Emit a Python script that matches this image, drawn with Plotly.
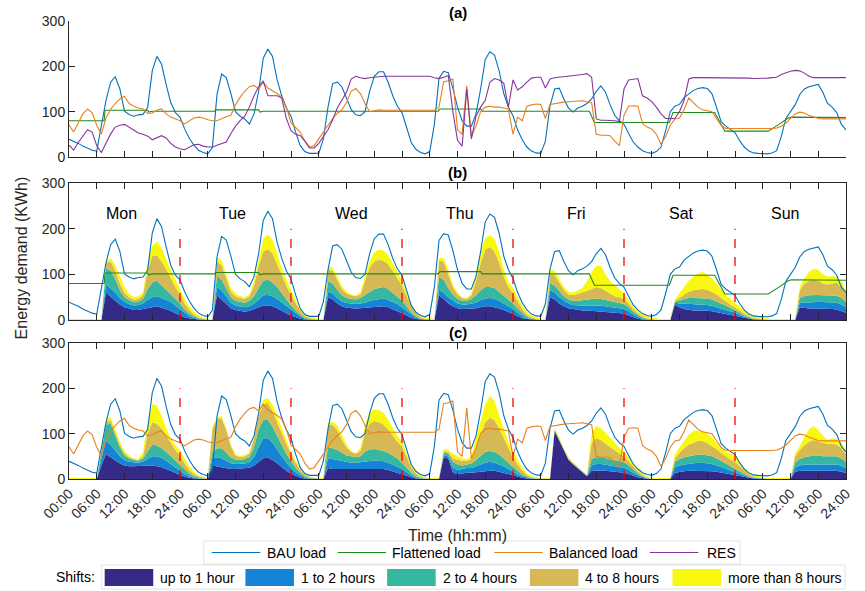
import plotly.graph_objects as go

HOURS = list(range(169))

# ---------------- data (hourly, Mon 00:00 .. Sun 24:00) ----------------
BAU = ([39,35,30,24,19,15,13,65,125,165,177,150,101,94,90,93,94,109,190,222,205,160,120,98]
       + [88,62,42,26,15,10,7,21,138,183,175,140,100,90,84,73,95,145,218,238,222,170,135,108]
       + [90,55,25,12,8,8,8,40,110,162,165,155,130,105,93,91,100,145,178,188,188,165,135,112]
       + [98,63,32,17,10,7,12,72,174,189,186,152,110,80,68,68,95,150,215,232,225,190,140,110]
       + [91,60,38,22,13,9,8,35,112,150,152,128,108,99,108,112,118,128,145,157,143,115,92,80]
       + [72,52,33,22,14,10,8,12,22,58,100,112,116,131,139,147,151,153,151,140,110,78,68,60]
       + [54,36,22,13,9,8,7,7,9,14,45,85,100,115,138,150,155,157,160,143,118,110,98,72]
       + [60])

BALANCED = ([71,55,75,95,106,98,70,51,86,105,118,128,134,118,112,108,106,96,97,103,106,95,88,84]
            + [80,73,80,86,88,86,82,80,80,85,89,92,115,132,145,155,158,150,165,152,146,140,132,110]
            + [75,64,55,35,22,25,40,55,72,85,96,104,120,145,151,140,118,100,102,104,103,103,104,104]
            + [103,104,104,103,104,104,104,103,110,166,168,172,60,50,157,45,68,100,110,112,110,110,108,106]
            + [50,88,80,112,115,117,116,85,116,118,120,121,122,123,124,124,122,120,50,48,48,47,35,25]
            + [92,112,113,112,74,66,62,50,28,45,70,84,86,105,130,120,110,104,102,100,85,70,63,63]
            + [62,62,62,62,62,62,62,62,63,64,68,75,84,95,99,97,92,88,85,84,84,84,84,84]
            + [84])

RES = ([26,15,32,46,60,55,25,10,30,51,66,70,72,65,59,53,50,46,38,42,47,42,30,22]
       + [18,16,22,27,28,24,22,22,26,30,33,52,68,80,90,110,135,155,168,135,135,135,130,85]
       + [58,50,47,35,20,20,30,45,60,82,108,125,143,172,178,175,173,175,176,178,178,178,178,178]
       + [178,178,178,177,177,177,178,175,173,176,180,100,37,24,150,40,90,110,125,165,173,170,163,110]
       + [170,148,155,165,174,176,176,152,172,175,176,177,178,179,180,182,184,176,84,81,81,81,80,78]
       + [150,170,172,173,135,130,122,110,95,85,85,85,100,125,172,175,175,175,175,175,175,175,174,174]
       + [174,174,174,174,173,173,173,174,175,176,182,186,189,191,190,185,178,175,175,175,175,175,175,175]
       + [175])

FLAT_T = [0, 7.6, 7.8, 17, 17.3, 18, 31.5, 31.7, 41, 41.3, 42, 79.8, 80.2, 89, 89.3,
          112.5, 113.6, 129.8, 130.6, 139.6, 141.8, 151.2, 153.5, 155.5, 156.2, 168]
FLAT_V = [80, 80, 103, 103, 99, 101, 101, 104, 104, 99, 101, 101, 106, 106, 101,
          101, 76, 76, 98, 98, 57, 57, 72, 86, 88, 87]

# stacked shift layers, panel (b): cumulative top of each band
B_UP1H = ([0]*8 + [60,50,42,34,28,25,22,22,24,26,28,30,27,24,20,15]
          + [10,6,4,2,1,0,0,0,54,45,35,26,22,20,18,20,24,28,32,32,30,26,20,15]
          + [10,6,3,1,0,0,0,0,50,45,36,30,27,26,25,26,27,28,28,30,30,28,24,20]
          + [15,10,5,2,1,0,0,0,54,46,36,30,26,24,24,25,26,28,30,30,28,25,22,18]
          + [13,8,4,2,1,0,0,0,50,45,36,30,26,24,22,21,21,20,20,19,18,17,16,15]
          + [14,10,6,3,1,0,0,0,0,0,0,34,28,24,22,21,21,21,20,19,17,15,13,11]
          + [9,6,4,2,1,0,0,0,0,0,0,0,0,0,28,26,25,25,25,24,24,24,23,20]
          + [16])
B_1TO2 = ([0]*8 + [78,70,60,48,40,35,32,33,36,44,50,52,48,45,40,32]
          + [24,15,9,5,2,1,0,0,72,64,52,38,32,30,28,30,36,45,54,55,52,46,38,30]
          + [22,14,8,3,1,0,0,0,62,58,48,40,37,36,35,36,38,42,44,46,47,44,40,35]
          + [28,20,11,5,2,1,0,0,66,60,50,42,36,34,34,36,38,44,47,48,46,42,36,30]
          + [24,16,9,4,2,1,0,0,65,60,50,42,36,33,32,32,32,32,32,31,30,28,27,26]
          + [24,19,12,7,3,1,0,0,0,0,0,38,36,36,35,34,34,34,33,31,28,25,22,19]
          + [16,11,7,4,2,1,0,0,0,0,0,0,0,0,38,38,38,39,40,39,39,39,38,34]
          + [28])
B_2TO4 = ([0]*8 + [112,108,90,65,50,43,39,40,46,68,82,86,76,66,58,46]
          + [36,23,14,8,4,2,0,0,96,88,70,50,42,40,38,42,52,70,86,88,82,72,58,45]
          + [33,21,12,5,2,1,0,0,85,80,66,54,48,46,45,48,55,62,68,70,72,68,60,52]
          + [42,30,17,8,3,1,0,0,94,88,70,56,46,42,42,46,55,65,72,72,70,62,54,45]
          + [36,25,15,7,3,1,0,0,80,76,63,52,45,42,42,43,44,46,47,46,44,42,40,38]
          + [35,28,18,11,5,2,1,0,0,0,0,40,42,46,48,48,48,48,47,45,41,36,32,27]
          + [22,16,10,6,3,2,1,0,0,0,0,0,0,0,48,52,54,55,55,54,54,54,53,48]
          + [40])
B_4TO8 = ([0]*8 + [125,128,108,80,60,50,45,46,55,108,140,142,128,112,92,72]
          + [56,36,22,12,6,3,1,0,128,120,90,62,52,48,46,52,75,118,150,155,146,122,96,75]
          + [55,36,20,9,4,2,1,0,110,108,88,68,58,54,52,56,85,115,128,132,130,122,108,92]
          + [76,52,30,14,6,3,1,0,130,128,100,72,56,48,46,54,85,125,155,160,150,126,95,72]
          + [58,40,24,12,6,3,1,0,100,98,82,66,56,55,57,60,64,68,72,70,64,58,52,50]
          + [46,36,24,15,8,4,2,1,0,0,0,42,48,56,62,65,67,68,66,62,56,48,40,34]
          + [28,21,14,9,5,3,2,1,0,0,0,0,0,0,65,80,86,88,86,80,78,80,82,72]
          + [58])
B_OVER8 = ([2]*8 + [130,135,120,95,72,57,50,52,60,125,162,172,158,132,108,88]
           + [68,46,30,18,10,5,3,2,138,130,100,70,58,52,50,56,85,128,178,188,176,146,112,88]
           + [65,44,26,14,8,5,3,2,116,115,95,74,62,56,54,60,95,128,148,154,152,142,124,104]
           + [86,60,35,19,9,5,3,2,136,136,110,78,60,50,48,58,100,150,180,185,178,150,112,84]
           + [70,50,32,18,10,6,3,2,110,108,90,72,62,60,64,70,85,105,118,118,100,85,76,66]
           + [58,44,30,20,13,8,5,3,2,2,2,45,58,72,86,96,102,105,100,92,80,66,55,46]
           + [37,29,21,15,10,7,5,3,2,2,2,2,2,2,72,92,105,112,110,100,95,96,95,85]
           + [65])

# stacked shift layers, panel (c): cumulative top of each band
C_UP1H = ([0]*7 + [30,55,48,40,34,30,28,28,28,29,30,30,28,26,22,18,13]
          + [9,5,3,1,0,0,0,30,28,26,24,22,22,23,24,25,30,38,46,47,42,35,26,18]
          + [12,7,3,1,0,0,0,0,24,22,22,22,22,22,22,22,22,22,22,22,22,20,17,14]
          + [11,7,4,1,0,0,0,0,0,48,45,15,10,12,14,14,15,17,18,18,18,16,14,11]
          + [8,5,3,1,0,0,0,0,0,106,85,62,42,32,24,14,6,18,19,19,18,17,16,15]
          + [14,11,7,4,2,0,0,0,0,0,0,14,16,17,18,18,18,18,18,17,16,14,12,10]
          + [8,6,4,2,1,0,0,0,0,0,0,0,0,16,18,18,18,18,18,18,18,18,18,16]
          + [13])
C_1TO2 = ([0]*7 + [45,85,75,62,50,42,38,37,36,38,44,50,50,47,40,32,25]
          + [18,11,6,3,1,0,0,45,48,46,40,35,33,33,34,37,48,70,90,90,80,65,50,36]
          + [25,15,8,3,1,0,0,0,46,44,42,40,38,36,36,37,39,40,41,40,39,36,32,27]
          + [22,14,8,3,1,0,0,0,0,52,50,25,20,22,24,24,28,32,36,38,36,32,28,22]
          + [16,10,6,3,1,0,0,0,0,107,86,63,43,33,25,15,7,30,33,33,32,30,28,27]
          + [25,20,13,8,4,1,0,0,0,0,0,26,30,32,34,35,36,36,35,33,30,27,23,19]
          + [15,11,7,4,2,1,0,0,0,0,0,0,0,26,30,32,32,33,33,32,32,32,32,29]
          + [24])
C_2TO4 = ([0]*7 + [60,120,122,98,70,52,45,42,40,45,62,76,74,68,60,50,40]
          + [30,20,12,6,3,1,0,60,68,68,58,48,43,42,44,48,70,110,130,130,115,95,72,55]
          + [40,25,14,6,2,1,0,0,70,68,64,58,52,50,48,50,60,65,66,64,62,58,52,45]
          + [36,24,14,6,2,1,0,0,0,58,56,38,32,30,32,34,42,52,60,62,60,54,46,36]
          + [27,18,10,5,2,1,0,0,0,108,87,64,44,34,26,16,7,44,48,48,46,44,42,40]
          + [37,30,20,12,6,2,0,0,0,0,0,38,44,48,50,52,54,54,52,50,46,40,34,28]
          + [23,17,11,6,3,2,1,0,0,0,0,0,0,36,44,48,50,52,52,50,50,50,50,45]
          + [38])
C_4TO8 = ([0]*7 + [62,126,130,104,76,57,48,44,42,50,100,125,122,112,95,78,64]
          + [52,34,20,11,6,3,1,110,132,134,108,72,52,48,50,56,90,140,165,168,150,125,100,78]
          + [56,36,20,10,4,2,1,0,118,120,108,86,70,60,56,62,100,122,128,126,120,110,96,82]
          + [72,48,26,12,5,2,1,0,0,62,60,45,42,40,40,44,70,100,125,135,130,112,90,68]
          + [48,32,18,9,4,2,1,0,0,110,89,66,46,35,27,17,8,80,90,86,78,70,62,56]
          + [50,40,28,17,9,4,1,0,0,0,0,45,58,68,76,80,84,84,80,72,66,58,50,43]
          + [38,28,18,10,6,3,2,0,0,0,0,0,0,50,64,75,82,86,84,80,78,78,76,68]
          + [55])
C_OVER8 = ([2]*7 + [65,132,137,110,82,62,52,45,44,60,125,165,162,140,112,90,74]
           + [64,44,28,16,9,5,3,115,136,139,112,76,55,51,53,58,95,145,175,178,165,138,110,86]
           + [60,40,24,12,6,3,2,2,124,126,118,96,76,62,56,68,118,146,154,152,146,130,112,95]
           + [84,55,32,16,8,4,2,2,2,66,64,55,50,46,44,50,90,130,165,183,172,140,110,82]
           + [60,42,25,13,7,4,2,2,2,112,92,68,48,37,29,19,9,100,117,112,102,92,80,68]
           + [60,48,33,21,12,6,3,2,2,2,2,55,70,84,98,106,107,106,100,92,80,68,60,56]
           + [52,38,24,15,10,7,4,2,2,2,2,2,2,56,72,92,110,117,108,96,86,90,88,80]
           + [62])

DAY_BOUNDS = [24, 48, 72, 96, 120, 144]
DAY_NAMES = ["Mon", "Tue", "Wed", "Thu", "Fri", "Sat", "Sun"]
DAY_LABEL_X = [11.3, 35.4, 61.0, 84.6, 109.8, 132.4, 154.8]
TICK_VALS = list(range(0, 169, 6))
TICK_TEXT = ["00:00"] + ["06:00", "12:00", "18:00", "24:00"] * 7
SHIFT_NAMES = ["up to 1 hour", "1 to 2 hours", "2 to 4 hours", "4 to 8 hours", "more than 8 hours"]

# ---------------- styling ----------------
C_BAU = "#0072BD"
C_FLAT = "#1E8B1E"
C_BAL = "#E6811E"
C_RES = "#84379A"
SHIFT_COLORS = ["#352A87", "#1584D6", "#35B7A0", "#D6B954", "#F8F80E"]
FONT = "Liberation Sans, Arial, Helvetica, sans-serif"
AX = "#262626"

W, H = 865, 591
ML, MR, MT, MB = 69, 12, 21, 112
PW, PH = W - ML - MR, H - MT - MB


def P(x, y):
    """screen pixel -> paper coordinates"""
    return (x - ML) / PW, (H - MB - y) / PH


def DY(y):
    return (H - MB - y) / PH


fig = go.Figure()


def add_stack(tops, xa, ya):
    for i, (top, col) in enumerate(zip(tops, SHIFT_COLORS)):
        fig.add_trace(go.Scatter(x=HOURS, y=top, mode="lines", line=dict(width=0, color=col),
                                 fill="tozeroy" if i == 0 else "tonexty", fillcolor=col,
                                 xaxis=xa, yaxis=ya, showlegend=False, hoverinfo="skip"))


def add_line(x, y, col, xa, ya, w=1.1):
    fig.add_trace(go.Scatter(x=x, y=y, mode="lines", line=dict(width=w, color=col),
                             xaxis=xa, yaxis=ya, showlegend=False, hoverinfo="skip"))


# panel (a)
add_line(HOURS, BAU, C_BAU, "x", "y")
add_line(FLAT_T, FLAT_V, C_FLAT, "x", "y")
add_line(HOURS, BALANCED, C_BAL, "x", "y")
add_line(HOURS, RES, C_RES, "x", "y")
# panel (b)
add_stack([B_UP1H, B_1TO2, B_2TO4, B_4TO8, B_OVER8], "x2", "y2")
add_line(HOURS, BAU, C_BAU, "x2", "y2")
add_line(FLAT_T, FLAT_V, C_FLAT, "x2", "y2")
# panel (c)
add_stack([C_UP1H, C_1TO2, C_2TO4, C_4TO8, C_OVER8], "x3", "y3")
add_line(HOURS, BAU, C_BAU, "x3", "y3")
add_line(HOURS, BALANCED, C_BAL, "x3", "y3")

shapes = []
for ax in ("2", "3"):
    for xb in DAY_BOUNDS:
        shapes.append(dict(type="line", xref="x" + ax, yref="y" + ax, x0=xb, x1=xb, y0=0, y1=200,
                           line=dict(color="#FF0000", width=1.3, dash="dash")))

annotations = []


def text(xp, yp, s, size=14, xanchor="center", angle=0, color="black"):
    x, y = P(xp, yp)
    annotations.append(dict(x=x, y=y, xref="paper", yref="paper", text=s, showarrow=False,
                            xanchor=xanchor, yanchor="middle", textangle=angle,
                            font=dict(size=size, color=color, family=FONT)))


for name, xd in zip(DAY_NAMES, DAY_LABEL_X):
    annotations.append(dict(x=xd, y=233, xref="x2", yref="y2", text=name, showarrow=False,
                            xanchor="center", yanchor="middle",
                            font=dict(size=16, color="black", family=FONT)))
for lab, yp in (("(a)", 12), ("(b)", 172), ("(c)", 332)):
    text(461, yp, "<b>%s</b>" % lab, size=15)
text(21, 258, "Energy demand (KWh)", size=16, angle=-90, color=AX)
text(461, 535, "Time (hh:mm)", size=16, color=AX)

# legend 1 (lines)
x0, y0 = P(205, 564); x1, y1 = P(746, 541)
shapes.append(dict(type="rect", xref="paper", yref="paper", x0=x0, y0=y0, x1=x1, y1=y1,
                   line=dict(color="#E3E3E3", width=1), fillcolor="white"))
for name, col, lx, tx in (("BAU load", C_BAU, 213, 267), ("Flattened load", C_FLAT, 340, 393),
                          ("Balanced load", C_BAL, 498, 551), ("RES", C_RES, 655, 711)):
    a0, b0 = P(lx, 552.5); a1, _ = P(lx + 49, 552.5)
    shapes.append(dict(type="line", xref="paper", yref="paper", x0=a0, x1=a1, y0=b0, y1=b0,
                       line=dict(color=col, width=1.2)))
    text(tx, 552.5, name, xanchor="left")

# legend 2 (shift bands)
x0, y0 = P(102, 589); x1, y1 = P(852, 565)
shapes.append(dict(type="rect", xref="paper", yref="paper", x0=x0, y0=y0, x1=x1, y1=y1,
                   line=dict(color="#E3E3E3", width=1), fillcolor="white"))
text(97, 577, "Shifts:", xanchor="right")
for name, col, sx in zip(SHIFT_NAMES, SHIFT_COLORS, [105, 247, 390, 534, 678]):
    a0, b0 = P(sx, 586); a1, b1 = P(sx + 49, 569)
    shapes.append(dict(type="rect", xref="paper", yref="paper", x0=a0, y0=b0, x1=a1, y1=b1,
                       line=dict(width=0), fillcolor=col))
    text(sx + 54, 577.5, name, xanchor="left")

tickfont = dict(size=14, color=AX, family=FONT)


def xax(anchor, labels, mirror):
    d = dict(range=[0, 168], domain=[0, 1], anchor=anchor, tickmode="array", tickvals=TICK_VALS,
             ticks="inside", ticklen=6, tickcolor=AX, tickwidth=1, showline=True, linecolor=AX,
             linewidth=1, showgrid=False, zeroline=False, mirror=mirror, tickfont=tickfont)
    if labels:
        d.update(ticktext=TICK_TEXT, tickangle=-45, showticklabels=True)
    else:
        d.update(showticklabels=False)
    return d


def yax(anchor, dom, mirror):
    return dict(range=[0, 300], domain=dom, anchor=anchor, tickmode="array", tickvals=[0, 100, 200, 300],
                ticks="inside", ticklen=6, tickcolor=AX, tickwidth=1, showline=True, linecolor=AX,
                linewidth=1, showgrid=False, zeroline=False, mirror=mirror, tickfont=tickfont)


fig.update_layout(
    width=W, height=H, margin=dict(l=ML, r=MR, t=MT, b=MB),
    paper_bgcolor="white", plot_bgcolor="white", showlegend=False,
    xaxis=xax("y", False, False), yaxis=yax("x", [DY(157), 1.0], False),
    xaxis2=xax("y2", False, "ticks"), yaxis2=yax("x2", [DY(320), DY(183)], "ticks"),
    xaxis3=xax("y3", True, "ticks"), yaxis3=yax("x3", [0, DY(343)], "ticks"),
    shapes=shapes, annotations=annotations,
)

# figure flush with the window corner (no body margin / scrollbars), no mode bar
fig.write_html("out.html",
               config={"displayModeBar": False, "staticPlot": True},
               post_script="document.body.style.margin='0px';document.body.style.overflow='hidden';")
